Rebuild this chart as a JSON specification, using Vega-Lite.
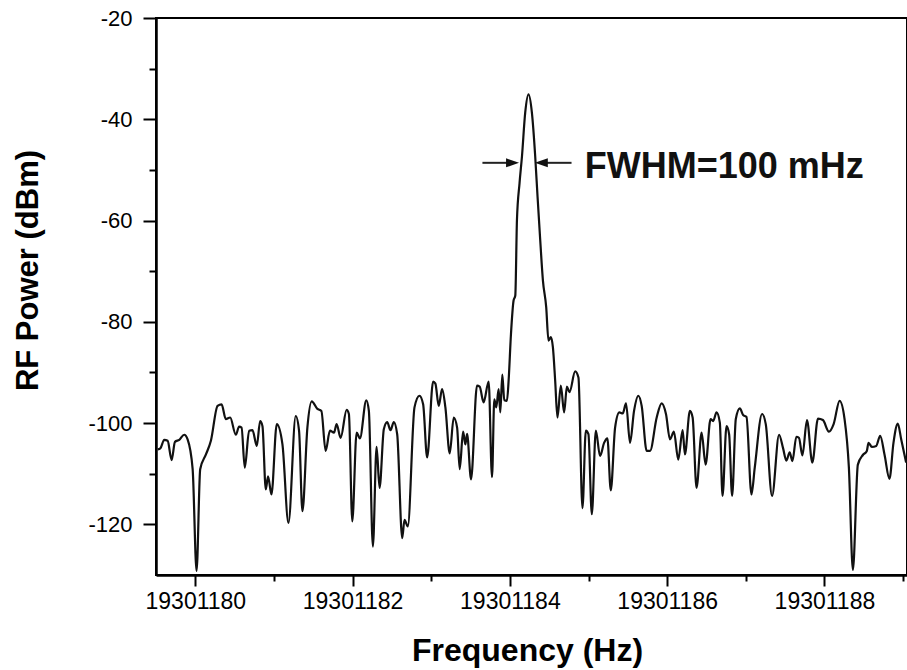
{
  "$schema": "https://vega.github.io/schema/vega-lite/v6.json",
  "width": 751,
  "height": 557,
  "autosize": "none",
  "padding": {"left": 156, "top": 18, "right": 0, "bottom": 95},
  "background": "white",
  "config": {"view": {"stroke": "black", "strokeWidth": 2}, "font": "Liberation Sans"},
  "datasets": {
    "spectrum": [
      {"f":19301179.522,"p":-105.2},{"f":19301179.555,"p":-105.0},{"f":19301179.605,"p":-103.3},{"f":19301179.648,"p":-103.5},
      {"f":19301179.699,"p":-107.3},{"f":19301179.741,"p":-103.7},{"f":19301179.796,"p":-103.3},{"f":19301179.859,"p":-102.3},
      {"f":19301179.902,"p":-103.2},{"f":19301179.966,"p":-109.1},{"f":19301180.016,"p":-129.2},{"f":19301180.062,"p":-109.1},
      {"f":19301180.135,"p":-106.2},{"f":19301180.198,"p":-103.5},{"f":19301180.283,"p":-96.6},{"f":19301180.334,"p":-96.3},
      {"f":19301180.388,"p":-99.2},{"f":19301180.443,"p":-98.9},{"f":19301180.515,"p":-102.3},{"f":19301180.557,"p":-100.7},
      {"f":19301180.588,"p":-100.9},{"f":19301180.629,"p":-108.8},{"f":19301180.684,"p":-101.5},{"f":19301180.727,"p":-101.4},
      {"f":19301180.782,"p":-104.5},{"f":19301180.824,"p":-99.6},{"f":19301180.854,"p":-100.6},{"f":19301180.896,"p":-113.1},
      {"f":19301180.925,"p":-110.5},{"f":19301180.968,"p":-114.1},{"f":19301181.036,"p":-100.2},{"f":19301181.108,"p":-104.2},
      {"f":19301181.184,"p":-119.7},{"f":19301181.277,"p":-98.6},{"f":19301181.319,"p":-101.5},{"f":19301181.362,"p":-117.4},
      {"f":19301181.425,"p":-100.9},{"f":19301181.480,"p":-95.7},{"f":19301181.552,"p":-97.2},{"f":19301181.603,"p":-97.6},
      {"f":19301181.657,"p":-105.5},{"f":19301181.712,"p":-101.5},{"f":19301181.763,"p":-101.9},{"f":19301181.797,"p":-100.2},
      {"f":19301181.848,"p":-102.9},{"f":19301181.924,"p":-97.4},{"f":19301181.953,"p":-98.2},{"f":19301181.996,"p":-119.4},
      {"f":19301182.051,"p":-101.9},{"f":19301182.093,"p":-103.0},{"f":19301182.174,"p":-95.5},{"f":19301182.207,"p":-97.6},
      {"f":19301182.258,"p":-124.4},{"f":19301182.305,"p":-104.7},{"f":19301182.343,"p":-112.8},{"f":19301182.397,"p":-101.2},
      {"f":19301182.440,"p":-99.8},{"f":19301182.482,"p":-101.4},{"f":19301182.524,"p":-99.8},{"f":19301182.567,"p":-102.2},
      {"f":19301182.631,"p":-122.7},{"f":19301182.660,"p":-119.1},{"f":19301182.702,"p":-120.4},{"f":19301182.787,"p":-96.9},
      {"f":19301182.850,"p":-94.6},{"f":19301182.897,"p":-96.3},{"f":19301182.948,"p":-106.8},{"f":19301183.024,"p":-91.8},
      {"f":19301183.053,"p":-92.2},{"f":19301183.095,"p":-96.6},{"f":19301183.138,"p":-93.3},{"f":19301183.180,"p":-96.9},
      {"f":19301183.235,"p":-106.0},{"f":19301183.286,"p":-98.9},{"f":19301183.329,"p":-100.9},{"f":19301183.362,"p":-109.1},
      {"f":19301183.405,"p":-101.7},{"f":19301183.434,"p":-104.2},{"f":19301183.456,"p":-102.1},{"f":19301183.506,"p":-111.1},
      {"f":19301183.582,"p":-92.6},{"f":19301183.616,"p":-92.8},{"f":19301183.666,"p":-95.9},{"f":19301183.730,"p":-91.8},
      {"f":19301183.773,"p":-110.7},{"f":19301183.802,"p":-95.3},{"f":19301183.827,"p":-96.9},{"f":19301183.857,"p":-93.3},
      {"f":19301183.878,"p":-97.9},{"f":19301183.904,"p":-90.4},{"f":19301183.929,"p":-95.5},{"f":19301183.963,"p":-95.6},
      {"f":19301183.984,"p":-91.6},{"f":19301184.014,"p":-82.4},{"f":19301184.047,"p":-75.8},{"f":19301184.069,"p":-74.8},
      {"f":19301184.090,"p":-59.9},{"f":19301184.123,"p":-52.6},{"f":19301184.154,"p":-47.3},{"f":19301184.195,"p":-38.7},
      {"f":19301184.237,"p":-35.1},{"f":19301184.280,"p":-38.7},{"f":19301184.322,"p":-47.3},{"f":19301184.352,"p":-55.3},
      {"f":19301184.386,"p":-63.9},{"f":19301184.420,"p":-71.8},{"f":19301184.462,"p":-77.1},{"f":19301184.491,"p":-83.7},
      {"f":19301184.522,"p":-83.0},{"f":19301184.547,"p":-85.0},{"f":19301184.576,"p":-91.6},{"f":19301184.605,"p":-98.9},
      {"f":19301184.648,"p":-92.6},{"f":19301184.690,"p":-97.9},{"f":19301184.725,"p":-92.8},{"f":19301184.758,"p":-93.9},
      {"f":19301184.830,"p":-89.8},{"f":19301184.872,"p":-91.0},{"f":19301184.923,"p":-116.8},{"f":19301184.966,"p":-101.5},
      {"f":19301184.999,"p":-102.2},{"f":19301185.042,"p":-118.0},{"f":19301185.093,"p":-101.5},{"f":19301185.147,"p":-106.5},
      {"f":19301185.198,"p":-103.9},{"f":19301185.240,"p":-103.0},{"f":19301185.283,"p":-113.3},{"f":19301185.338,"p":-100.9},
      {"f":19301185.392,"p":-97.9},{"f":19301185.435,"p":-98.1},{"f":19301185.477,"p":-96.1},{"f":19301185.528,"p":-103.9},
      {"f":19301185.579,"p":-97.6},{"f":19301185.633,"p":-94.6},{"f":19301185.676,"p":-96.6},{"f":19301185.740,"p":-105.5},
      {"f":19301185.782,"p":-105.5},{"f":19301185.867,"p":-98.9},{"f":19301185.930,"p":-96.1},{"f":19301185.985,"p":-98.2},
      {"f":19301186.036,"p":-103.2},{"f":19301186.086,"p":-101.7},{"f":19301186.141,"p":-107.2},{"f":19301186.197,"p":-101.4},
      {"f":19301186.226,"p":-106.2},{"f":19301186.289,"p":-97.6},{"f":19301186.324,"p":-98.9},{"f":19301186.374,"p":-112.8},
      {"f":19301186.438,"p":-101.9},{"f":19301186.489,"p":-108.2},{"f":19301186.552,"p":-99.2},{"f":19301186.585,"p":-99.6},
      {"f":19301186.628,"p":-97.9},{"f":19301186.670,"p":-99.9},{"f":19301186.704,"p":-114.4},{"f":19301186.755,"p":-100.6},
      {"f":19301186.788,"p":-102.2},{"f":19301186.826,"p":-114.4},{"f":19301186.873,"p":-99.2},{"f":19301186.924,"p":-97.1},
      {"f":19301186.966,"p":-98.4},{"f":19301187.009,"p":-98.8},{"f":19301187.072,"p":-114.1},{"f":19301187.114,"p":-108.8},
      {"f":19301187.207,"p":-98.2},{"f":19301187.254,"p":-100.2},{"f":19301187.334,"p":-114.4},{"f":19301187.423,"p":-102.3},
      {"f":19301187.473,"p":-104.9},{"f":19301187.516,"p":-107.4},{"f":19301187.558,"p":-105.8},{"f":19301187.593,"p":-107.5},
      {"f":19301187.643,"p":-102.7},{"f":19301187.676,"p":-102.9},{"f":19301187.720,"p":-106.4},{"f":19301187.778,"p":-99.4},
      {"f":19301187.846,"p":-107.8},{"f":19301187.918,"p":-99.1},{"f":19301187.981,"p":-99.4},{"f":19301188.057,"p":-101.7},
      {"f":19301188.117,"p":-100.2},{"f":19301188.193,"p":-95.6},{"f":19301188.256,"p":-99.2},{"f":19301188.311,"p":-108.8},
      {"f":19301188.362,"p":-129.0},{"f":19301188.425,"p":-108.2},{"f":19301188.489,"p":-106.3},{"f":19301188.539,"p":-105.5},
      {"f":19301188.561,"p":-103.9},{"f":19301188.603,"p":-104.7},{"f":19301188.659,"p":-104.5},{"f":19301188.709,"p":-102.5},
      {"f":19301188.764,"p":-106.2},{"f":19301188.827,"p":-111.0},{"f":19301188.878,"p":-103.9},{"f":19301188.933,"p":-100.1},
      {"f":19301188.976,"p":-103.2},{"f":19301189.039,"p":-107.8}
    ],
    "arrows": [
      {"f": 19301183.651, "f2": 19301184.05, "p": -48.6},
      {"f": 19301184.40, "f2": 19301184.784, "p": -48.6}
    ],
    "heads": [
      {"f": 19301184.034, "p": -48.6, "dir": "right"},
      {"f": 19301184.400, "p": -48.6, "dir": "left"}
    ],
    "label": [
      {"f": 19301184.953, "p": -51.6, "t": "FWHM=100 mHz"}
    ]
  },
  "layer": [
    {
      "data": {"name": "spectrum"},
      "mark": {"type": "line", "color": "#111111", "strokeWidth": 2.2, "clip": true, "interpolate": "monotone"},
      "encoding": {
        "x": {
          "field": "f", "type": "quantitative",
          "scale": {"domain": [19301179.5, 19301189.05], "nice": false, "zero": false},
          "axis": {
            "title": "Frequency (Hz)",
            "values": [19301180, 19301181, 19301182, 19301183, 19301184, 19301185, 19301186, 19301187, 19301188, 19301189],
            "format": "d",
            "labelExpr": "datum.value % 2 === 0 ? datum.label : ''",
            "grid": false,
            "domainColor": "black", "domainWidth": 2.5,
            "tickColor": "black", "tickWidth": 2,
            "tickSize": {"condition": {"test": "datum.value % 2 === 0", "value": 11}, "value": 6},
            "labelFontSize": 23, "labelColor": "black", "labelPadding": 4,
            "labelFlush": false, "labelOverlap": false,
            "titleFontSize": 32, "titleFontWeight": "bold", "titleColor": "black",
            "titleX": 371, "titleY": 85, "titleBaseline": "alphabetic", "titleAlign": "center"
          }
        },
        "y": {
          "field": "p", "type": "quantitative",
          "scale": {"domain": [-130, -20], "nice": false, "zero": false},
          "axis": {
            "title": "RF Power (dBm)",
            "values": [-120, -110, -100, -90, -80, -70, -60, -50, -40, -30, -20],
            "labelExpr": "datum.value % 20 === 0 ? toString(datum.value) : ''",
            "grid": false,
            "domainColor": "black", "domainWidth": 2.5,
            "tickColor": "black", "tickWidth": 2,
            "tickSize": {"condition": {"test": "datum.value % 20 === 0", "value": 13}, "value": 7},
            "labelFontSize": 22, "labelColor": "black", "labelPadding": 11,
            "labelFlush": false, "labelOverlap": false,
            "titleFontSize": 31, "titleFontWeight": "bold", "titleColor": "black",
            "titleX": -128, "titleY": 252, "titleAngle": -90, "titleBaseline": "middle", "titleAlign": "center"
          }
        }
      }
    },
    {
      "data": {"name": "arrows"},
      "mark": {"type": "rule", "color": "#222222", "strokeWidth": 2},
      "encoding": {
        "x": {"field": "f", "type": "quantitative"},
        "x2": {"field": "f2"},
        "y": {"field": "p", "type": "quantitative"}
      }
    },
    {
      "data": {"name": "heads"},
      "mark": {"type": "point", "filled": true, "color": "#111111", "opacity": 1, "size": 169},
      "encoding": {
        "x": {"field": "f", "type": "quantitative"},
        "y": {"field": "p", "type": "quantitative"},
        "shape": {
          "field": "dir", "type": "nominal",
          "scale": {"domain": ["right", "left"], "range": ["M-1,-0.7L1,0L-1,0.7Z", "M1,-0.7L-1,0L1,0.7Z"]},
          "legend": null
        }
      }
    },
    {
      "data": {"name": "label"},
      "mark": {"type": "text", "align": "left", "baseline": "alphabetic", "fontSize": 36, "fontWeight": "bold", "font": "Liberation Sans", "color": "#111111"},
      "encoding": {
        "x": {"field": "f", "type": "quantitative"},
        "y": {"field": "p", "type": "quantitative"},
        "text": {"field": "t"}
      }
    }
  ]
}
